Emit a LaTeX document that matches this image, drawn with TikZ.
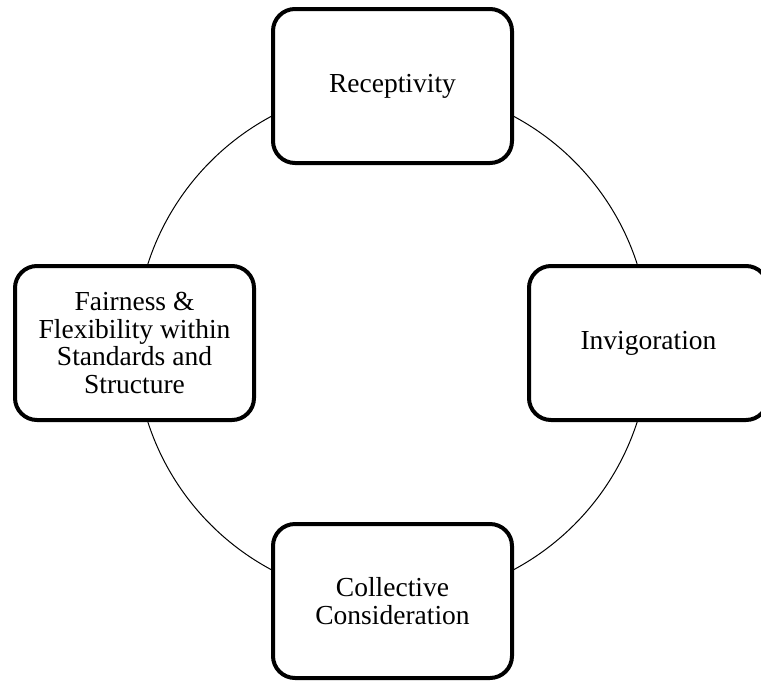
\documentclass[tikz,border=0pt]{standalone}
\usepackage{fontspec}
\setmainfont{Liberation Serif}
\begin{document}
\begin{tikzpicture}[x=1pt,y=-1pt,
  box/.style={draw, line width=4pt, rounded corners=22pt, fill=white,
    minimum width=239pt, minimum height=154pt, align=center,
    font=\fontsize{27.5}{27.7}\selectfont, inner sep=0pt},
  ring/.style={draw, circle, line width=1pt, minimum size=514pt, inner sep=0pt}]
\useasboundingbox (0,0) rectangle (761,681);
\coordinate (c) at (392.5,343);
\node[ring] (r) at (c) {};
\node[box] (top) at (392.5,86) {Receptivity};
\node[box] (right) at (648.5,343) {Invigoration};
\node[box] (bottom) at (392.5,601) {Collective\\Consideration};
\node[box] (left) at (134.5,343) {Fairness \&\\Flexibility within\\Standards and\\Structure};
\end{tikzpicture}
\end{document}
